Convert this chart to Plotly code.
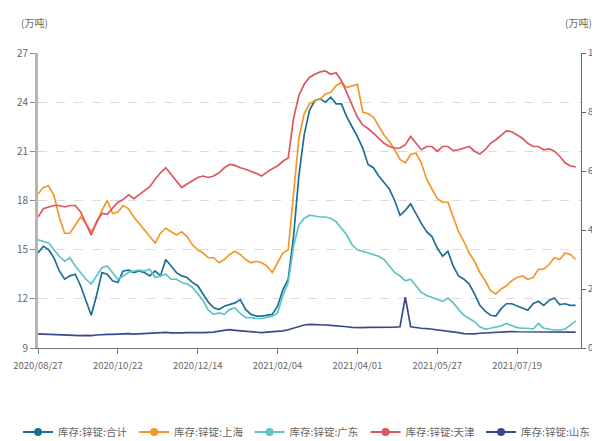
import plotly.graph_objects as go

# x tick labels (every 15th observation)
tick_labels = ["2020/08/27", "2020/10/22", "2020/12/14", "2021/02/04",
               "2021/04/01", "2021/05/27", "2021/07/19"]
tick_step = 15

names = ["库存:锌锭:合计", "库存:锌锭:上海", "库存:锌锭:广东", "库存:锌锭:天津", "库存:锌锭:山东"]

# 万吨, left axis
total = [14.8, 15.2, 15.0, 14.5, 13.7, 13.2, 13.4, 13.5, 12.8, 11.9, 11.0, 12.2, 13.6, 13.5, 13.1,
         13.0, 13.7, 13.75, 13.6, 13.7, 13.6, 13.4, 13.7, 13.4, 14.4, 14.0, 13.6, 13.4, 13.3, 13.0,
         12.8, 12.3, 11.8, 11.45, 11.35, 11.55, 11.65, 11.75, 11.95, 11.35, 11.05, 10.95, 10.95, 11.0, 11.05,
         11.55, 12.55, 13.2, 15.8, 19.5, 22.0, 23.5, 24.1, 24.2, 24.0, 24.3, 23.9, 23.9, 23.1, 22.5,
         21.9, 21.2, 20.2, 20.0, 19.5, 19.1, 18.7, 18.0, 17.1, 17.4, 17.8, 17.2, 16.6, 16.1, 15.8,
         15.1, 14.6, 14.9, 14.0, 13.4, 13.2, 12.9, 12.3, 11.6, 11.25, 11.0, 10.95, 11.4, 11.7, 11.7,
         11.55, 11.4, 11.3, 11.7, 11.85, 11.6, 11.9, 12.05, 11.65, 11.7, 11.6, 11.6]

# 万吨, right axis
shanghai = [5.22, 5.44, 5.5, 5.17, 4.44, 3.89, 3.89, 4.17, 4.44, 4.22, 3.94, 4.22, 4.67, 5.0, 4.56,
            4.61, 4.83, 4.72, 4.44, 4.22, 4.0, 3.78, 3.56, 3.89, 4.06, 3.94, 3.83, 3.94, 3.78, 3.5,
            3.33, 3.22, 3.06, 3.06, 2.89, 3.0, 3.17, 3.28, 3.17, 3.0, 2.89, 2.94, 2.89, 2.78, 2.56,
            2.89, 3.22, 3.33, 5.28, 7.11, 7.94, 8.28, 8.39, 8.44, 8.61, 8.67, 8.89, 9.0, 8.83, 8.89,
            8.94, 8.0, 7.94, 7.83, 7.5, 7.22, 7.0, 6.72, 6.39, 6.28, 6.56, 6.61, 6.28, 5.72, 5.39,
            5.06, 4.94, 4.94, 4.44, 3.94, 3.61, 3.22, 2.94, 2.56, 2.28, 1.94, 1.83, 2.0, 2.11, 2.28,
            2.39, 2.44, 2.33, 2.39, 2.67, 2.67, 2.83, 3.06, 3.0, 3.22, 3.17, 3.0]

guangdong = [3.67, 3.61, 3.56, 3.33, 3.11, 2.94, 3.06, 2.78, 2.56, 2.33, 2.17, 2.44, 2.72, 2.78, 2.56,
             2.33, 2.44, 2.56, 2.61, 2.64, 2.61, 2.67, 2.39, 2.44, 2.5, 2.33, 2.33, 2.22, 2.17, 2.06,
             1.83, 1.61, 1.28, 1.14, 1.19, 1.14, 1.31, 1.36, 1.17, 1.03, 1.03, 1.0, 1.0, 1.03, 1.08,
             1.19, 1.78, 2.22, 3.44, 4.17, 4.39, 4.5, 4.47, 4.44, 4.44, 4.39, 4.28, 4.06, 3.83, 3.5,
             3.33, 3.28, 3.22, 3.17, 3.11, 3.0, 2.78, 2.56, 2.44, 2.28, 2.33, 2.11, 1.89, 1.78, 1.72,
             1.64, 1.58, 1.69, 1.53, 1.31, 1.11, 1.0, 0.89, 0.72, 0.64, 0.67, 0.72, 0.75, 0.83, 0.75,
             0.69, 0.67, 0.67, 0.64, 0.83, 0.67, 0.64, 0.61, 0.61, 0.64, 0.78, 0.92]

tianjin = [4.44, 4.72, 4.78, 4.83, 4.83, 4.78, 4.83, 4.83, 4.61, 4.22, 3.83, 4.28, 4.56, 4.53, 4.72,
           4.94, 5.03, 5.19, 5.06, 5.19, 5.33, 5.47, 5.72, 5.94, 6.11, 5.89, 5.67, 5.44, 5.56, 5.67,
           5.78, 5.83, 5.78, 5.83, 5.94, 6.11, 6.22, 6.19, 6.11, 6.06, 6.0, 5.92, 5.83, 5.97, 6.08,
           6.17, 6.33, 6.44, 7.78, 8.56, 8.94, 9.17, 9.28, 9.36, 9.39, 9.28, 9.33, 9.06, 8.67, 8.22,
           7.83, 7.56, 7.44, 7.28, 7.11, 6.94, 6.83, 6.78, 6.78, 6.89, 7.17, 6.94, 6.72, 6.83, 6.83,
           6.67, 6.83, 6.83, 6.69, 6.72, 6.78, 6.83, 6.67, 6.58, 6.72, 6.94, 7.06, 7.22, 7.36, 7.33,
           7.22, 7.11, 6.94, 6.83, 6.83, 6.72, 6.75, 6.67, 6.5, 6.28, 6.17, 6.14]

shandong = [0.48, 0.47, 0.46, 0.45, 0.46, 0.45, 0.44, 0.43, 0.42, 0.43, 0.42, 0.44, 0.46, 0.46, 0.46,
            0.47, 0.5, 0.49, 0.47, 0.48, 0.5, 0.51, 0.52, 0.53, 0.53, 0.51, 0.5, 0.51, 0.52, 0.51,
            0.52, 0.52, 0.52, 0.54, 0.57, 0.6, 0.62, 0.6, 0.58, 0.57, 0.55, 0.53, 0.52, 0.54, 0.55,
            0.57, 0.58, 0.62, 0.67, 0.74, 0.78, 0.8, 0.8, 0.79, 0.78, 0.77, 0.76, 0.74, 0.72, 0.7,
            0.69, 0.69, 0.7, 0.7, 0.69, 0.69, 0.7, 0.71, 0.72, 1.72, 0.72, 0.69, 0.67, 0.66, 0.64,
            0.62, 0.6, 0.58, 0.56, 0.52, 0.49, 0.48, 0.48, 0.5, 0.51, 0.53, 0.55, 0.56, 0.56, 0.56,
            0.55, 0.55, 0.54, 0.54, 0.53, 0.53, 0.53, 0.53, 0.54, 0.54, 0.54, 0.54]

series = [total, shanghai, guangdong, tianjin, shandong]
axes = ["y", "y2", "y2", "y2", "y2"]
colors = ["#1f6e96", "#f5962a", "#5ec4c6", "#dc5760", "#3b4a8d"]

FONT = "Noto Sans CJK SC, Microsoft YaHei, sans-serif"

fig = go.Figure()
for name, vals, ax, col in zip(names, series, axes, colors):
    fig.add_trace(go.Scatter(x=list(range(len(vals))), y=vals, yaxis=ax, name=name,
                             mode="lines", line=dict(color=col, width=1.7),
                             showlegend=False))

legend_ids = ["legend", "legend2", "legend3", "legend4", "legend5"]
for name, col, lg in zip(names, colors, legend_ids):
    fig.add_trace(go.Scatter(x=[None], y=[None], name=name, mode="lines+markers",
                             line=dict(color=col, width=2),
                             marker=dict(color=col, size=8), legend=lg))

tickvals = [i * tick_step for i in range(len(tick_labels))]

legend_x = [0.017, 0.213, 0.408, 0.604, 0.799]
legend_layout = {}
for lg, lx in zip(legend_ids, legend_x):
    legend_layout[lg] = dict(xref="container", yref="container", x=lx, xanchor="left",
                             y=0.021, yanchor="middle", orientation="h",
                             font=dict(size=10.5, color="#666"), bgcolor="rgba(0,0,0,0)",
                             borderwidth=0)

# the page body has an 8px margin, so the figure is sized 592x433
fig.update_layout(
    width=592, height=433,
    margin=dict(l=30, r=19, t=45, b=93, autoexpand=False),
    paper_bgcolor="white", plot_bgcolor="white",
    font=dict(family=FONT, size=10, color="#666"),
    showlegend=True,
    xaxis=dict(range=[0, 102], tickmode="array", tickvals=tickvals, ticktext=tick_labels,
               showgrid=False, zeroline=False, showline=True, linecolor="#777", linewidth=1,
               ticks="outside", ticklen=5, tickcolor="#777", ticklabelstandoff=4,
               tickfont=dict(size=9.5, color="#666")),
    yaxis=dict(range=[9, 27], dtick=3, tick0=9, showgrid=True, gridcolor="#dcdcdc",
               griddash="dash", gridwidth=1, zeroline=False, showline=True,
               linecolor="#b5b5b5", linewidth=3, ticks="outside", ticklen=5, tickcolor="#888",
               tickfont=dict(size=10, color="#666")),
    yaxis2=dict(range=[0, 10], dtick=2, tick0=0, overlaying="y", side="right",
                showgrid=False, zeroline=False, showline=True, linecolor="#666", linewidth=1,
                ticks="outside", ticklen=4, tickcolor="#666",
                tickfont=dict(size=9.5, color="#666")),
    annotations=[
        dict(text="(万吨)", xref="paper", yref="paper", x=-0.007, y=1.105,
             xanchor="center", yanchor="middle", showarrow=False,
             font=dict(size=10, color="#666")),
        dict(text="(万吨)", xref="paper", yref="paper", x=0.995, y=1.105,
             xanchor="center", yanchor="middle", showarrow=False,
             font=dict(size=10, color="#666")),
    ],
    **legend_layout,
)

fig.write_html("out.html")
